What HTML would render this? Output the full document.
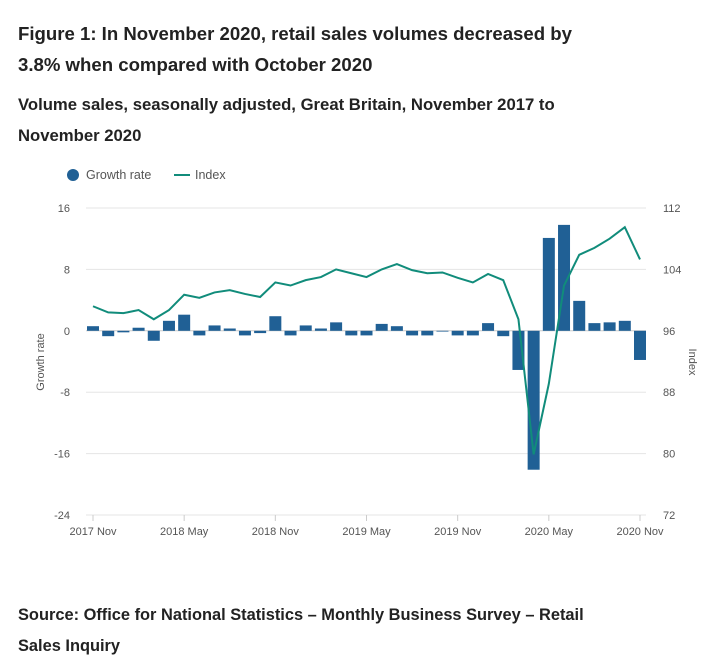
<!DOCTYPE html>
<html><head><meta charset="utf-8"><style>
body{margin:0;background:#fff;font-family:"Liberation Sans",sans-serif;color:#222;}
.t{position:absolute;left:18px;font-weight:bold;}
</style></head><body>
<div style="position:relative;width:725px;height:664px;overflow:hidden">
<div class="t" style="top:18px;font-size:18.6px;line-height:31px;width:600px">Figure 1: In November 2020, retail sales volumes decreased by 3.8% when compared with October 2020</div>
<div class="t" style="top:89px;font-size:16.7px;line-height:31px;width:580px">Volume sales, seasonally adjusted, Great Britain, November 2017 to November 2020</div>
<div class="t" style="top:600px;font-size:16.4px;line-height:31px;width:600px">Source: Office for National Statistics – Monthly Business Survey – Retail Sales Inquiry</div>
<svg id="c" width="725" height="664" style="position:absolute;left:0;top:0"></svg>
</div>
<script>
const months=["2017 Nov","Dec","Jan","Feb","Mar","Apr","2018 May","Jun","Jul","Aug","Sep","Oct","2018 Nov","Dec","Jan","Feb","Mar","Apr","2019 May","Jun","Jul","Aug","Sep","Oct","2019 Nov","Dec","Jan","Feb","Mar","Apr","2020 May","Jun","Jul","Aug","Sep","Oct","2020 Nov"];
const growth=[0.6,-0.7,-0.2,0.4,-1.3,1.3,2.1,-0.6,0.7,0.3,-0.6,-0.3,1.9,-0.6,0.7,0.3,1.1,-0.6,-0.6,0.9,0.6,-0.6,-0.6,-0.1,-0.6,-0.6,1.0,-0.7,-5.1,-18.1,12.1,13.8,3.9,1.0,1.1,1.3,-3.8];
const index=[99.2,98.4,98.3,98.7,97.5,98.7,100.7,100.3,101.0,101.3,100.8,100.4,102.3,101.9,102.6,103.0,104.0,103.5,103.0,104.0,104.7,103.9,103.5,103.6,102.9,102.3,103.4,102.6,97.5,79.9,89.1,101.9,105.9,106.8,108.0,109.5,105.3];
const leftTicks=[16,8,0,-8,-16,-24];
const rightTicks=[112,104,96,88,80,72];
const xLabels=["2017 Nov","2018 May","2018 Nov","2019 May","2019 Nov","2020 May","2020 Nov"];
const svg=document.getElementById('c');const NS="http://www.w3.org/2000/svg";
function mk(t,a,txt){const e=document.createElementNS(NS,t);for(const k in a)e.setAttribute(k,a[k]);if(txt!==undefined)e.textContent=txt;svg.appendChild(e);return e;}
const x0=93,x1=640,yTop=208,yBot=515;
const xs=i=>x0+i*(x1-x0)/(months.length-1);
const yL=v=>yTop+(16-v)*(yBot-yTop)/40;
const yR=v=>yTop+(112-v)*(yBot-yTop)/40;
leftTicks.forEach((t,i)=>{const y=yL(t);
 let g=mk('line',{x1:86,x2:646,y1:y,y2:y,stroke:t===0?'#ccc':'#e5e5e5','stroke-width':1});
 
 
 let l=mk('text',{x:70,y:y+4,'text-anchor':'end','font-size':11,fill:'#555'},t);
 
 
 let r=mk('text',{x:663,y:yR(rightTicks[i])+4,'font-size':11,fill:'#555'},rightTicks[i]);
 
 });
xLabels.forEach(lb=>{const i=months.indexOf(lb);const x=xs(i);
 let tk=mk('line',{x1:x,x2:x,y1:515,y2:521,stroke:'#ccc'});
 
 
 let t=mk('text',{x:x,y:535,'text-anchor':'middle','font-size':11,fill:'#555'},lb);
 
 });
growth.forEach((v,i)=>{const y0=yL(0),y=yL(v);
 let b=mk('rect',{x:xs(i)-6,y:Math.min(y0,y),width:12,height:Math.abs(y-y0),fill:'#206095'});
 
 });
let p=mk('polyline',{points:index.map((v,i)=>xs(i)+','+yR(v)).join(' '),fill:'none',stroke:'#118c7b','stroke-width':2});


let ya=mk('text',{x:0,y:0,'font-size':11,fill:'#555','text-anchor':'middle',transform:'translate(44,362) rotate(-90)'},'Growth rate');


let yb=mk('text',{x:0,y:0,'font-size':11,fill:'#555','text-anchor':'middle',transform:'translate(689,362) rotate(90)'},'Index');


let lc=mk('circle',{cx:73,cy:175,r:6,fill:'#206095'});


let lt=mk('text',{x:86,y:179,'font-size':12.5,fill:'#555'},'Growth rate');


let ll=mk('line',{x1:174,x2:190,y1:175,y2:175,stroke:'#118c7b','stroke-width':2});


let lt2=mk('text',{x:195,y:179,'font-size':12.5,fill:'#555'},'Index');


</script>
</body></html>
